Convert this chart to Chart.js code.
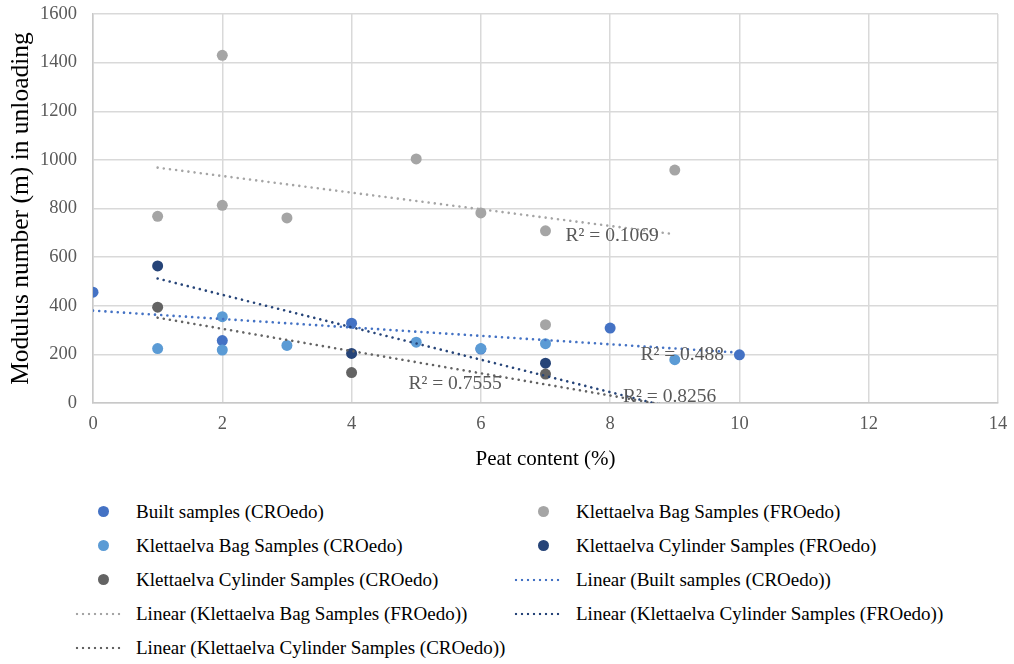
<!DOCTYPE html>
<html>
<head>
<meta charset="utf-8">
<script src="https://cdn.jsdelivr.net/npm/chart.js@4/dist/chart.umd.min.js"></script>
<style>
  body { margin: 0; background: #fff; font-family: 'Liberation Serif', 'Times New Roman', serif; }
  #wrap { position: relative; width: 1014px; height: 664px; }
  #chartBox { position: absolute; left: 0; top: 0; width: 1014px; height: 472px; }
  .lg { position: absolute; height: 22px; font-size: 19px; color: #000; white-space: nowrap; line-height: 22px; }
  .lg .dot { position: absolute; width: 11px; height: 11px; border-radius: 50%; top: 5px; }
  .lg .ln { position: absolute; height: 4px; top: 9px; background-size: 6px 4px; background-repeat: repeat-x; }
  .lg .tx { position: absolute; }
</style>
</head>
<body>
<div id="wrap">
  <div id="chartBox"><canvas id="chart"></canvas></div>
  <div id="legend"></div>
</div>
<script>
// Series values
const builtX = [0, 2, 4, 6, 8, 10];
const builtY = [456, 257, 328, 222, 308, 198];
const bagFroX = [1, 2, 2, 3, 5, 6, 7, 7, 9];
const bagFroY = [768, 1430, 813, 761, 1004, 782, 708, 322, 958];
const bagCroX = [1, 2, 2, 3, 5, 6, 7, 9];
const bagCroY = [224, 218, 355, 237, 250, 224, 244, 178];
const cylFroX = [1, 4, 7];
const cylFroY = [564, 204, 164];
const cylCroX = [1, 4, 7];
const cylCroY = [394, 125, 119];

// Trend line ends (x, y)
const trendBuiltX = [0, 10];
const trendBuiltY = [380, 207];
const trendBagFroX = [1, 9];
const trendBagFroY = [968, 694];
const trendCylFroX = [1, 9];
const trendCylFroY = [512, -22];
const trendCylCroX = [1, 9];
const trendCylCroY = [351, -15];

// R² labels
const r2Text = ['R² = 0.1069', 'R² = 0.488', 'R² = 0.7555', 'R² = 0.8256'];
const r2X = [7.31, 8.47, 4.88, 8.2];
const r2Y = [687, 200, 77, 25];

// Axis ticks
const xTicks = [0, 2, 4, 6, 8, 10, 12, 14];
const yTicks = [0, 200, 400, 600, 800, 1000, 1200, 1400, 1600];

const colors = {
    built: '#4472C4',
    bagCro: '#5B9BD5',
    bagFro: '#A5A5A5',
    cylFro: '#264478',
    cylCro: '#636363'
};

const toPts = (xs, ys) => xs.map((x, i) => ({ x: x, y: ys[i] }));

function scatterSet(label, xs, ys, color, order) {
    return {
        label: label,
        data: toPts(xs, ys),
        backgroundColor: color,
        borderColor: color,
        pointRadius: 5.5,
        pointBorderWidth: 0,
        showLine: false,
        order: order
    };
}

function trendSet(label, xs, ys, color, order) {
    return {
        label: label,
        data: toPts(xs, ys),
        borderColor: color,
        backgroundColor: color,
        borderWidth: 2.6,
        borderDash: [0.01, 6.2],
        borderCapStyle: 'round',
        pointRadius: 0,
        showLine: true,
        fill: false,
        order: order
    };
}

const datasets = [
    scatterSet('Built samples (CROedo)', builtX, builtY, colors.built, 10),
    scatterSet('Klettaelva Bag Samples (FROedo)', bagFroX, bagFroY, colors.bagFro, 9),
    scatterSet('Klettaelva Bag Samples (CROedo)', bagCroX, bagCroY, colors.bagCro, 8),
    scatterSet('Klettaelva Cylinder Samples (FROedo)', cylFroX, cylFroY, colors.cylFro, 7),
    scatterSet('Klettaelva Cylinder Samples (CROedo)', cylCroX, cylCroY, colors.cylCro, 6),
    trendSet('Linear (Built samples (CROedo))', trendBuiltX, trendBuiltY, colors.built, 5),
    trendSet('Linear (Klettaelva Bag Samples (FROedo))', trendBagFroX, trendBagFroY, colors.bagFro, 4),
    trendSet('Linear (Klettaelva Cylinder Samples (FROedo))', trendCylFroX, trendCylFroY, colors.cylFro, 3),
    trendSet('Linear (Klettaelva Cylinder Samples (CROedo))', trendCylCroX, trendCylCroY, colors.cylCro, 2)
];

// Draw R² text at data positions
const r2Labels = {
    id: 'r2Labels',
    afterDatasetsDraw(chart) {
        const ctx = chart.ctx;
        const xs = chart.scales.x, ys = chart.scales.y;
        ctx.save();
        ctx.font = "19.5px 'Liberation Serif', serif";
        ctx.fillStyle = '#595959';
        ctx.textAlign = 'left';
        ctx.textBaseline = 'middle';
        r2Text.forEach((t, i) => {
            ctx.fillText(t, xs.getPixelForValue(r2X[i]), ys.getPixelForValue(r2Y[i]));
        });
        ctx.restore();
    }
};

const serif = "'Liberation Serif', serif";

new Chart(document.getElementById('chart'), {
    type: 'scatter',
    data: { datasets: datasets },
    plugins: [r2Labels],
    options: {
        responsive: true,
        maintainAspectRatio: false,
        animation: false,
        layout: { padding: { left: 0, top: 14, right: 16, bottom: 0 } },
        plugins: {
            legend: { display: false },
            tooltip: { enabled: false }
        },
        scales: {
            x: {
                type: 'linear',
                min: 0,
                max: 14,
                afterBuildTicks: (scale) => { scale.ticks = xTicks.map(v => ({ value: v })); },
                afterFit: (scale) => {
                    scale.height = 69;
                    scale.paddingLeft = 0;
                    scale.paddingRight = 0;
                },
                grid: { color: '#D9D9D9', lineWidth: 1.5, drawTicks: false },
                border: { color: '#C8C8C8', width: 1.5 },
                ticks: {
                    color: '#595959',
                    font: { family: serif, size: 18.5 },
                    padding: 10,
                    maxRotation: 0,
                    callback: (v) => String(v)
                },
                title: {
                    display: true,
                    text: 'Peat content (%)',
                    color: '#000',
                    font: { family: serif, size: 21 },
                    padding: { top: 6, bottom: 0 }
                }
            },
            y: {
                min: 0,
                max: 1600,
                afterBuildTicks: (scale) => { scale.ticks = yTicks.map(v => ({ value: v })); },
                afterFit: (scale) => {
                    scale.width = 93;
                    scale.paddingTop = 0;
                    scale.paddingBottom = 0;
                },
                grid: { color: '#D9D9D9', lineWidth: 1.5, drawTicks: false },
                border: { color: '#C8C8C8', width: 1.5 },
                ticks: {
                    color: '#595959',
                    font: { family: serif, size: 18.5 },
                    padding: 16,
                    callback: (v) => String(v)
                },
                title: {
                    display: true,
                    text: 'Modulus number (m) in unloading',
                    color: '#000',
                    font: { family: serif, size: 25.5 },
                    padding: { top: 6, bottom: 0 }
                }
            }
        }
    }
});

// Two-column legend under the chart
const legendBox = document.getElementById('legend');
const colX = [[103, 136, 74, 122], [543, 576, 513, 562]];
datasets.forEach((ds, i) => {
    const col = i % 2, row = Math.floor(i / 2);
    const cy = 512 + row * 34;
    const item = document.createElement('div');
    item.className = 'lg';
    item.style.left = '0px';
    item.style.top = (cy - 11) + 'px';
    const c = colX[col];
    if (ds.showLine) {
        const ln = document.createElement('div');
        ln.className = 'ln';
        ln.style.left = c[2] + 'px';
        ln.style.width = (c[3] - c[2]) + 'px';
        ln.style.backgroundImage = 'radial-gradient(circle, ' + ds.borderColor + ' 1.1px, transparent 1.6px)';
        item.appendChild(ln);
    } else {
        const dot = document.createElement('div');
        dot.className = 'dot';
        dot.style.left = (c[0] - 5.5) + 'px';
        dot.style.background = ds.backgroundColor;
        item.appendChild(dot);
    }
    const tx = document.createElement('span');
    tx.className = 'tx';
    tx.style.left = c[1] + 'px';
    tx.textContent = ds.label;
    item.appendChild(tx);
    legendBox.appendChild(item);
});
</script>
</body>
</html>
